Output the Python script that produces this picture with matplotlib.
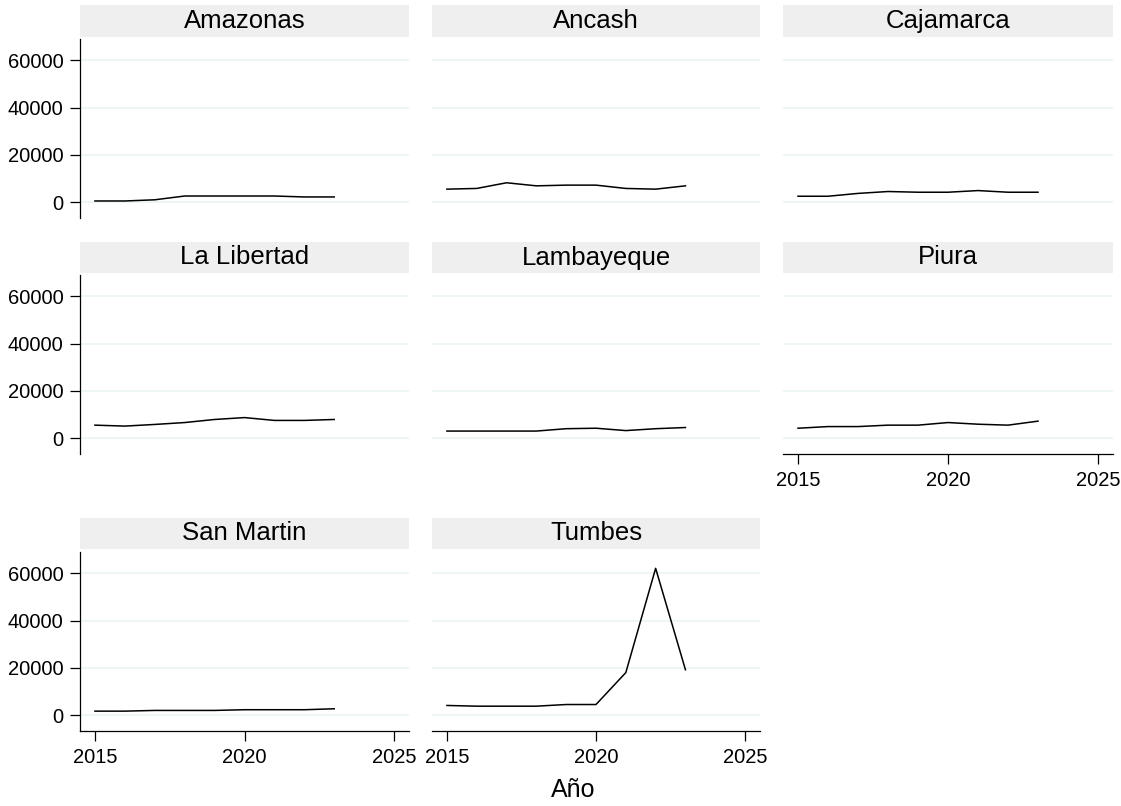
import matplotlib
matplotlib.use("Agg")
import matplotlib.pyplot as plt

plt.rcParams['font.family'] = ['Liberation Sans', 'DejaVu Sans']

years = [2015, 2016, 2017, 2018, 2019, 2020, 2021, 2022, 2023]
regions = ["Amazonas", "Ancash", "Cajamarca", "La Libertad", "Lambayeque",
           "Piura", "San Martin", "Tumbes"]
amazonas = [500, 500, 1000, 2600, 2600, 2600, 2600, 2200, 2200]
ancash = [5500, 5800, 8200, 6900, 7200, 7200, 5800, 5500, 6900]
cajamarca = [2500, 2500, 3700, 4500, 4200, 4200, 4900, 4200, 4200]
la_libertad = [5500, 5100, 5800, 6600, 7900, 8700, 7500, 7500, 7900]
lambayeque = [3000, 3000, 3000, 3000, 4000, 4200, 3200, 4000, 4500]
piura = [4200, 4900, 4900, 5500, 5500, 6600, 5900, 5500, 7200]
san_martin = [1700, 1700, 2000, 2000, 2000, 2300, 2300, 2300, 2700]
tumbes = [4100, 3800, 3800, 3800, 4500, 4500, 18000, 62100, 19200]
series = [amazonas, ancash, cajamarca, la_libertad, lambayeque, piura,
          san_martin, tumbes]

y_ticks = [0, 20000, 40000, 60000]
x_ticks = [2015, 2020, 2025]
x_label = "Año"

W, H = 1121, 806
fig = plt.figure(figsize=(W / 100, H / 100), dpi=100)
fig.patch.set_facecolor("white")

cols = [(80, 409), (432, 760), (783, 1113)]
rows_plot = [(39, 218), (275, 454), (552, 731)]
rows_strip = [(5, 37), (242, 273), (518, 549)]


def box(x0, y0, x1, y1):
    return [x0 / W, 1 - y1 / H, (x1 - x0) / W, (y1 - y0) / H]


show_x = {5, 6, 7}
for i, (name, vals) in enumerate(zip(regions, series)):
    r, c = divmod(i, 3)
    x0, x1 = cols[c]
    py0, py1 = rows_plot[r]
    sy0, sy1 = rows_strip[r]
    st = fig.add_axes(box(x0, sy0, x1, sy1))
    st.set_facecolor("#EFEFEF")
    for s in st.spines.values():
        s.set_visible(False)
    st.set_xticks([])
    st.set_yticks([])
    st.text(0.5, 0.5, name, ha="center", va="center", fontsize=18.5,
            transform=st.transAxes, color="black")

    ax = fig.add_axes(box(x0, py0, x1, py1))
    ax.set_xlim(2014.5, 2025.5)
    ax.set_ylim(-6700, 69000)
    for y in y_ticks:
        ax.axhline(y, color="#EAF2F3", lw=1.1, zorder=0)
    ax.plot(years, vals, color="black", lw=1.1, zorder=3)
    for s in ["top", "right"]:
        ax.spines[s].set_visible(False)
    ax.spines["left"].set_visible(c == 0)
    ax.spines["bottom"].set_visible(i in show_x)
    for s in ["left", "bottom"]:
        ax.spines[s].set_linewidth(0.9)
    ax.set_yticks(y_ticks)
    ax.set_xticks(x_ticks)
    ax.tick_params(axis="both", labelsize=14.5, length=7.5, width=0.9,
                   pad=4.5, colors="black")
    if c != 0:
        ax.tick_params(axis="y", left=False, labelleft=False)
    if i not in show_x:
        ax.tick_params(axis="x", bottom=False, labelbottom=False)

fig.text(573 / W, 1 - 790 / H, x_label, ha="center", va="center",
         fontsize=18)

fig.savefig("out.png", dpi=100)
